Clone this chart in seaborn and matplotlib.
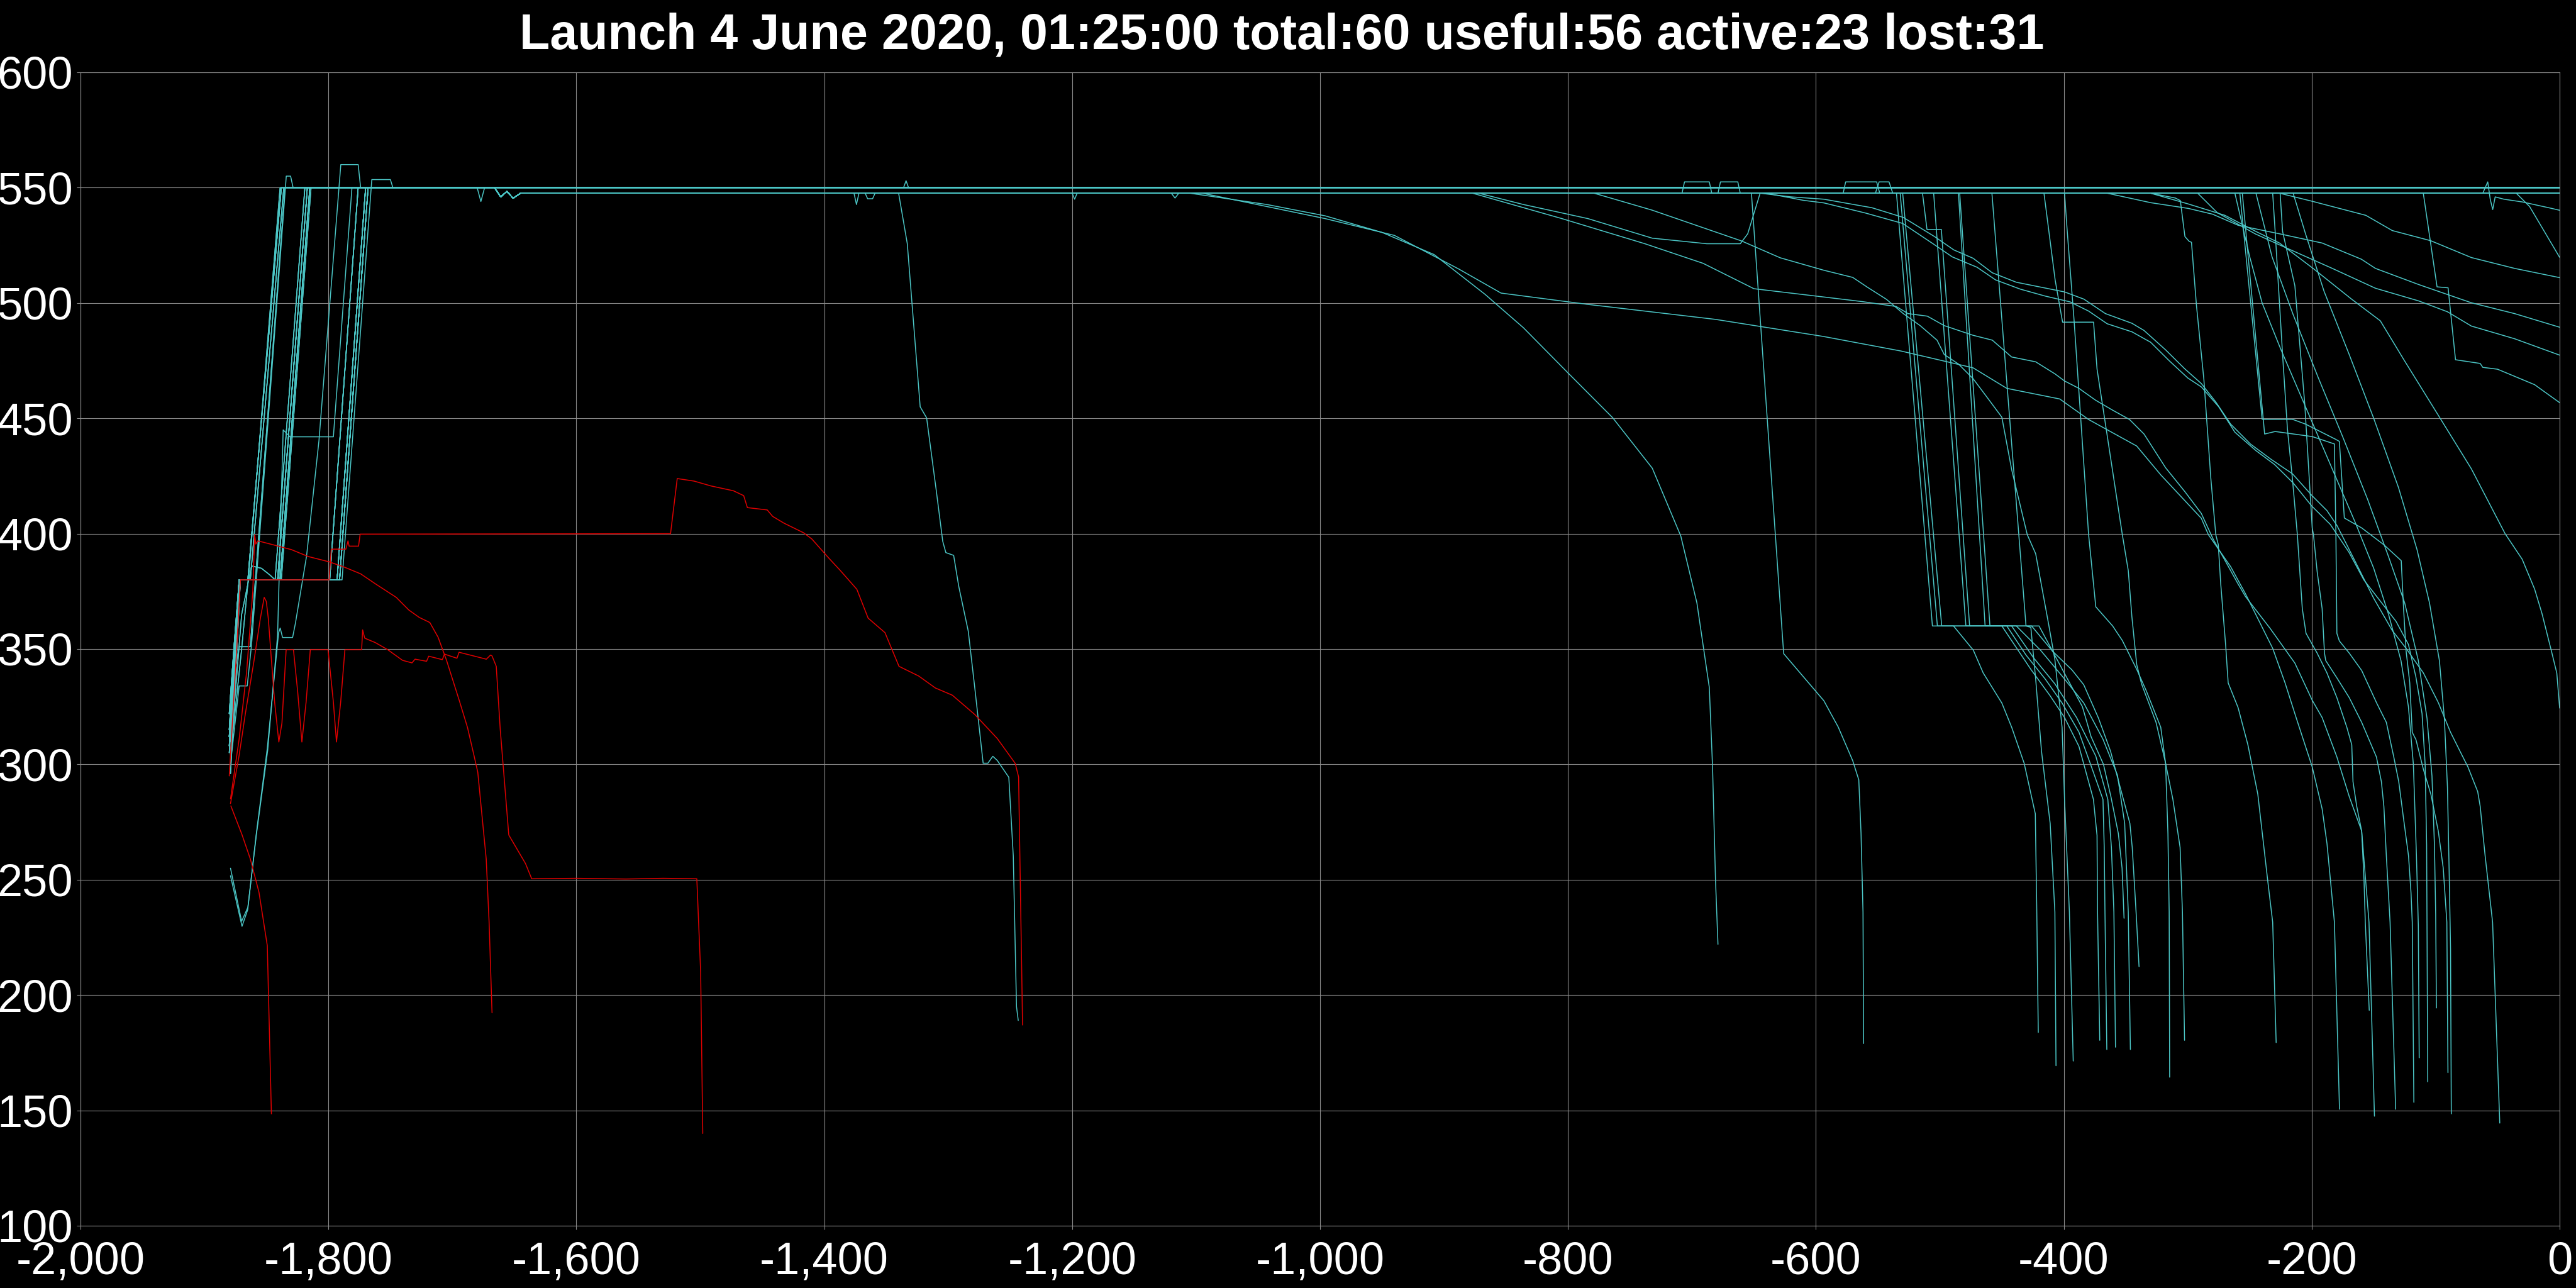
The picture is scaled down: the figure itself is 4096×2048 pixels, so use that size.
import pandas as pd
import seaborn as sns
import matplotlib.pyplot as plt
from matplotlib.ticker import FuncFormatter

TITLE = "Launch 4 June 2020, 01:25:00 total:60 useful:56 active:23 lost:31"
CYAN = '#4cc6c6'
RED = '#e00000'

# launch and orbit raising (day, km)
LAUNCH_1A = [(-1880, 322), (-1876, 352), (-1872, 380), (-1865, 380), (-1838, 550)]
LAUNCH_1B = [(-1880, 305), (-1875, 345), (-1871, 380), (-1863, 380), (-1836, 550)]
LAUNCH_1C = [(-1879, 330), (-1872, 351), (-1863, 351), (-1835, 550)]
LAUNCH_1D = [(-1879, 300), (-1872, 334), (-1865.5, 334), (-1862, 352), (-1834, 555), (-1830.5, 555), (-1828.5, 550)]
LAUNCH_1E = [(-1879, 304), (-1870, 350), (-1864, 384), (-1839, 550)]
LAUNCH_2A = [(-1880, 315), (-1876, 350), (-1872, 380), (-1841, 380), (-1817, 550)]
LAUNCH_2B = [(-1879, 310), (-1872, 380), (-1839, 380), (-1815, 550)]
LAUNCH_2C = [(-1879, 296), (-1871, 380), (-1843, 380), (-1819, 550)]
LAUNCH_2D = [(-1879, 305), (-1870, 365), (-1862, 386), (-1854, 385), (-1847, 382), (-1843, 380), (-1838, 380), (-1814, 550)]
LAUNCH_3A = [(-1880, 312), (-1872, 380), (-1791, 380), (-1768, 550)]
LAUNCH_3B = [(-1879, 318), (-1871, 380), (-1793, 380), (-1770, 550)]
LAUNCH_3C = [(-1879, 300), (-1872, 380), (-1789, 380), (-1765, 553.5), (-1750, 553.5), (-1748, 550)]
LAUNCH_3D = [(-1880, 308), (-1872, 380), (-1799, 380), (-1776, 550)]
LAUNCH_K3 = [(-1879, 251.7), (-1869.7, 229.8), (-1865.1, 237), (-1858.3, 269.4), (-1849.3, 307), (-1840.2, 357),
             (-1838.9, 359.1), (-1837, 355), (-1828.9, 355), (-1826.6, 361.2), (-1817.6, 390.4), (-1807.6, 440.5),
             (-1790, 560), (-1776, 560), (-1774, 550)]
LAUNCH_K4 = [(-1879, 255), (-1870, 232), (-1865, 238), (-1858, 270), (-1849, 306), (-1841, 356), (-1836.5, 445),
             (-1831, 442), (-1796, 442), (-1781, 550)]

SETTLE = [(-1666, 550), (-1661, 546), (-1656, 548.4), (-1651, 545.4), (-1645, 547.6)]

# operational orbit / decay paths
FLAT_550 = [(0, 550)]
FLAT_550_B = [(-1680, 550), (-1677, 544), (-1674, 550), (-1336, 550), (-1334, 553), (-1332, 550), (0, 550)]
FLAT_548 = [(0, 547.6)]
FLAT_548_D = [(-1376, 547.6), (-1374, 542.7), (-1372, 547.6), (-1367, 547.6), (-1365, 545.2), (-1361, 545.2),
              (-1359, 547.6), (-1200, 547.6), (-1198, 545), (-1196, 547.6), (-1120, 547.6), (-1117, 545.5),
              (-1114, 547.6), (0, 547.6)]
FLAT_548_B1 = [(-708, 547.6), (-706, 552.5), (-686, 552.5), (-684, 547.6), (-679, 547.6), (-677, 552.5),
               (-663, 552.5), (-661, 547.6), (0, 547.6)]
FLAT_548_B2 = [(-578, 547.6), (-576, 552.5), (-551, 552.5), (-548.5, 547.6), (0, 547.6)]
FLAT_548_B3 = [(-552, 547.6), (-549, 552.5), (-541, 552.5), (-538, 547.6), (0, 547.6)]

TAIL_S1 = [(-1340, 547.6), (-1333, 525.7), (-1322.6, 455), (-1317.4, 450.2), (-1309.6, 418.6), (-1304.4, 396.7),
           (-1301.9, 391.8), (-1295.6, 390.6), (-1291.5, 377.2), (-1283.8, 357.7), (-1278.6, 333.4),
           (-1271.8, 300.5), (-1268, 300.5), (-1264, 303.5), (-1260.4, 301.7), (-1251.1, 294.4),
           (-1247.5, 260.3), (-1244.9, 195), (-1243.5, 189)]
TAIL_S2 = [(-1105, 547.6), (-1043, 542.7), (-996, 537.8), (-950, 530.6), (-908, 521), (-867, 503.8),
           (-836, 489.3), (-800, 469.7), (-764, 450.3), (-732, 428.4), (-709, 399), (-696, 370), (-686, 333.4),
           (-683.4, 299.3), (-681, 250), (-679, 222)]
TAIL_S3 = [(-1095, 547.6), (-996, 536.6), (-940, 529.3), (-888, 514.7), (-854, 504.3), (-784, 499.4),
           (-681, 492.9), (-594, 485.5), (-531.5, 479.2), (-473.2, 471.9), (-446, 463), (-403.3, 458.4),
           (-380, 449.5), (-341.2, 438), (-321.8, 425.5), (-289.1, 406.7), (-283.4, 399.6), (-265.4, 385.7),
           (-253.4, 373.9), (-231.5, 350.3), (-221.5, 335.3), (-212.6, 320.3), (-199.6, 298.9), (-191.6, 280.7),
           (-187.7, 265.7), (-181.7, 231.6), (-177.6, 150.5)]
TAIL_L2 = [(-877, 547.6), (-805, 536.6), (-738, 525.7), (-691, 517.2), (-650, 506.2), (-593.6, 502.6),
           (-562.5, 500.6), (-535.3, 498.5), (-525.6, 495.4), (-510.1, 494.3), (-496.5, 490.2), (-473.2, 486),
           (-457.7, 483.9), (-442.1, 476.6), (-422.7, 474.5), (-407.2, 469.3), (-399.4, 466.2), (-387.8, 463),
           (-374.2, 457.8), (-360.8, 453.6), (-347, 449.5), (-335.3, 443.2), (-317.9, 428.6), (-302.3, 418.2),
           (-289.1, 408.8), (-279.4, 397.5), (-259.4, 378.2), (-253.5, 372.8), (-233.5, 358.9), (-213.6, 343.9),
           (-199.6, 327.8), (-191.6, 320.3), (-179.7, 303.2), (-169.7, 286), (-159.7, 271.1), (-153.8, 231.6),
           (-149.4, 147.5)]
TAIL_C8 = [(-779, 547.6), (-732.4, 540.3), (-660, 526.9), (-628.8, 519.6), (-593.6, 514.2), (-570.3, 511.1),
           (-558.6, 506.9), (-543.1, 501.6), (-529.5, 495.4), (-515.9, 490.2), (-502.3, 483.9), (-496.5, 477.7),
           (-484.9, 473.5), (-473.2, 467.2), (-461.6, 458.9), (-450, 450.5), (-442, 427.6), (-429.5, 399.6),
           (-422.7, 391.3), (-412, 360), (-407.2, 345.4), (-401.4, 316.1), (-399.4, 284.8), (-395.5, 236),
           (-392.4, 171.4)]
TAIL_P1 = [(-652, 547.6), (-626, 348), (-593.6, 327.6), (-582, 316.2), (-570.3, 301.6), (-565.4, 293.3),
           (-563.6, 270.3), (-562, 236), (-561.5, 179)]
TAIL_V1 = [(-872, 547.6), (-836, 542.7), (-784, 536.6), (-732, 528.1), (-688, 525.7), (-661, 525.7), (-655, 530),
           (-645, 547.6), (-620, 546), (-593.6, 545), (-554.8, 541.3), (-529.5, 537.1), (-504.3, 528.8),
           (-488.7, 523), (-473.2, 519.4), (-457.7, 513.1), (-438.3, 509), (-418.8, 506.9), (-399.4, 504.8),
           (-383.9, 501.7), (-366.4, 495.4), (-345, 491.2), (-335.3, 488.1), (-317.9, 479.7), (-302.3, 471.4),
           (-289.1, 465.1), (-277.4, 457.1), (-265.4, 447.5), (-249.5, 438.9), (-233.5, 432.5), (-215.6, 426),
           (-199.6, 416.4), (-187.7, 410), (-179.7, 403.6), (-171.7, 395.2), (-150, 372), (-135, 358),
           (-123.9, 350.3), (-109.9, 339.6), (-97.9, 326.8), (-88, 313.9), (-80, 305.3), (-74, 298.9),
           (-66.1, 288.2), (-64.1, 281.8), (-60.1, 260.3), (-54.1, 231.6), (-48.3, 144.5)]
TAIL_V2 = [(-640, 547.6), (-610, 544.5), (-593.6, 543.4), (-560, 539), (-530, 534.5), (-505, 525.5), (-490, 520),
           (-470, 515.5), (-455, 510), (-435, 506), (-415, 503), (-395, 500.5), (-380, 496.5), (-365, 491),
           (-345, 487.5), (-330, 483), (-315, 475), (-300, 467.5), (-289, 463.6), (-275, 455), (-262, 444),
           (-245, 436), (-230, 430), (-215, 422), (-200, 412), (-185, 404), (-170, 392), (-158, 380), (-145, 371),
           (-132, 362), (-122, 352), (-116, 338), (-111, 322), (-108.5, 300), (-107.3, 265), (-106.4, 162.4)]
TAIL_T1 = [(-330, 547.6), (-310, 545.5), (-306, 544.4), (-302.3, 528.8), (-299, 526.8), (-297, 526.3),
           (-293, 499), (-287, 466.8), (-281.4, 424), (-277.4, 399.6), (-275.4, 395.3), (-273.4, 378.2),
           (-269.4, 351.4), (-267.4, 335.3), (-259.4, 324.6), (-251.5, 308.5), (-243.5, 287.1), (-235.5, 249.6),
           (-231.5, 231.6), (-228.7, 179.4)]
TAIL_U1 = [(-258, 547.6), (-240, 449.6), (-215.6, 449.6), (-205, 447.5), (-181, 441), (-177.7, 440),
           (-173.7, 406.8), (-159.7, 402.5), (-141.8, 395.2), (-127.8, 388.3), (-125.9, 367.5), (-123.9, 349.3),
           (-120.9, 335.3), (-118.9, 313.9), (-115.9, 310.7), (-109.9, 297.8), (-103.9, 287.1), (-97.9, 271.1),
           (-93.9, 255), (-91, 231.6), (-90.1, 166.4)]
TAIL_U2 = [(-256, 547.6), (-238, 443.2), (-229.5, 444.3), (-199.6, 442.1), (-181.7, 438.9), (-180.5, 400),
           (-179.7, 356.8), (-177.7, 353.5), (-169.7, 348.2), (-159.7, 340.7), (-147.8, 326.8), (-139.8, 318.2),
           (-133.8, 303.2), (-129.8, 292.5), (-125.9, 276.4), (-121.9, 260.3), (-119.9, 244.3), (-118.9, 231.6),
           (-117.6, 153.5)]
TAIL_U3 = [(-231.5, 547.6), (-229.5, 531), (-223.5, 477.5), (-219.6, 445.4), (-215.6, 424), (-211.6, 399.6),
           (-209.6, 383.5), (-207.6, 367.5), (-204.6, 356.8), (-195.6, 348.2), (-187.7, 339.6), (-179.7, 328.9),
           (-171.7, 316.1), (-167.7, 308.5), (-166.7, 292.5), (-163.7, 281.8), (-159.7, 271.1), (-157.8, 249.6),
           (-156.8, 231.6), (-153.6, 193.4)]
TAIL_U4 = [(-225.5, 547.6), (-223.5, 531), (-213.6, 507.5), (-205.6, 456.1), (-199.6, 402.5), (-198.6, 399.6),
           (-195.6, 383.5), (-191.6, 367.5), (-189.7, 348.2), (-188.7, 345), (-179.7, 337.5), (-169.7, 328.9),
           (-159.7, 318.2), (-147.8, 303.2), (-143.8, 292.5), (-141.8, 281.8), (-139.8, 260.3), (-136.8, 231.6),
           (-132.3, 150.5)]
TAIL_U5 = [(-262, 547.6), (-250, 520), (-240, 500), (-225, 480), (-205, 455), (-185, 430), (-165, 405),
           (-150, 385), (-138, 365), (-128, 345), (-122, 325), (-118, 300), (-115.5, 260), (-114, 230),
           (-113.3, 172.8)]
TAIL_U6 = [(-245, 547.6), (-232, 520), (-215, 495), (-195, 468), (-175, 442), (-155, 415), (-138, 390),
           (-125, 370), (-114, 345), (-107, 320), (-103, 295), (-101, 265), (-100, 235), (-99.4, 194.4)]
TAIL_U7 = [(-215, 547.6), (-205, 530), (-190, 505), (-170, 478), (-150, 450), (-130, 420), (-115, 393),
           (-105, 370), (-97, 345), (-93, 320), (-90.5, 290), (-89, 250), (-88, 220), (-87.4, 148.5)]
TAIL_E1 = [(-62, 547.6), (-58, 552.5), (-56, 545), (-54, 540.5), (-52, 546), (-45, 545), (-30, 543.8),
           (-8, 541.2), (0, 540.2)]
TAIL_E2 = [(-35, 547.6), (-24.2, 541.8), (0, 519.8)]
TAIL_EA = [(-226, 547.6), (-198.9, 544), (-156.3, 538), (-135, 531.4), (-104, 527), (-71.2, 519.7),
           (-36.3, 515), (0, 511)]
TAIL_E3 = [(-365, 547.6), (-330, 543.5), (-299.5, 541), (-280, 538.5), (-259.4, 533.7), (-226, 530),
           (-191.6, 526), (-160, 519), (-148.6, 515), (-113.7, 508), (-71.2, 500.1), (-36.3, 495.4), (0, 489.5)]
TAIL_E4 = [(-292, 547.6), (-276.3, 539.2), (-245.3, 529.9), (-226, 525.2), (-183.4, 515), (-148.6, 506.4),
           (-113.7, 500.9), (-90.5, 496.2), (-71.2, 490), (-36.3, 484.5), (0, 477.4)]
TAIL_E6 = [(-110, 547.6), (-98.9, 507), (-90, 506.6), (-84, 475.4), (-64.1, 473.8), (-62, 472.1),
           (-50.1, 471.3), (-20.2, 464.6), (0, 456.8)]
TAIL_E7 = [(-330, 547.6), (-300, 543), (-270, 538), (-245, 531), (-226, 526), (-198.9, 515), (-167.9, 501.7),
           (-144.7, 492.3), (-125.3, 475.1), (-98.2, 451.6), (-71.2, 428.1), (-44, 400), (-30.2, 388.9),
           (-20.2, 376), (-14.2, 365.3), (-6.2, 348.2), (-2.3, 339.6), (0, 324.4)]
TAIL_C1 = [(-535, 547.6), (-506, 360), (-489, 360), (-473, 349.5), (-465, 339.6), (-450, 326.6), (-442, 316),
           (-432, 300.5), (-423, 278.6), (-421.8, 236), (-420.6, 183.8)]
TAIL_C2 = [(-505, 547.6), (-479, 360), (-450, 360), (-438.3, 350.6), (-426.6, 341.2), (-411, 329.7),
           (-399.4, 320.3), (-387.8, 307.8), (-376.1, 284.8), (-373.2, 269.2), (-372.8, 236), (-371, 180.4)]
TAIL_C3 = [(-530, 547.6), (-498.5, 360), (-446, 360), (-430.5, 347.4), (-415, 337), (-401.4, 326.6),
           (-387.8, 314), (-378, 299.4), (-368.4, 284.8), (-367.4, 264), (-366.8, 236), (-365.3, 176.4)]
TAIL_C4 = [(-532, 547.6), (-502, 360), (-442.1, 360), (-424.7, 346.4), (-407.2, 334.9), (-389.7, 320.3),
           (-374.2, 303.6), (-364.5, 284.8), (-361.6, 264), (-359.6, 236), (-358.3, 177.4)]
TAIL_C5 = [(-485, 547.6), (-463.5, 360), (-438.3, 360), (-418.8, 349.5), (-399.4, 337), (-383.9, 326.6),
           (-368.4, 310.9), (-356.7, 295.3), (-350.9, 274.4), (-348, 236), (-346.3, 176.4)]
TAIL_C6 = [(-484, 547.6), (-459.6, 360), (-426, 360), (-409, 349), (-393.5, 341), (-383.9, 334.5), (-372, 320),
           (-362.3, 305.7), (-354.5, 290), (-346.7, 274.4), (-344.8, 264), (-341.7, 236), (-339.3, 212.3)]
TAIL_C7 = [(-514, 547.6), (-510.4, 531.9), (-498.8, 531.9), (-476, 360), (-420, 360), (-410, 350), (-395, 335),
           (-385, 325), (-378, 312), (-368, 300), (-362, 286), (-356, 270), (-353, 255), (-351.4, 233.3)]
TAIL_C9 = [(-458, 547.6), (-430.5, 360), (-426.6, 359.4), (-422.7, 337), (-418, 305.7), (-411, 274.4),
           (-407.2, 236), (-406.3, 169.4)]
TAIL_Q1 = [(-416, 547.6), (-407, 510), (-401, 491.7), (-376, 491.7), (-373.2, 471.4), (-352.8, 399.6),
           (-348, 384), (-345.1, 364.1), (-341.2, 343.3), (-337.3, 334.9), (-325.6, 318.2), (-317.9, 300.5),
           (-312, 284.8), (-306.2, 264), (-304.3, 236), (-302.6, 180.4)]
TAIL_Q2 = [(-399.4, 547.6), (-397.5, 533), (-391.7, 492.3), (-380, 399.6), (-374.2, 368.3), (-360.6, 360),
           (-352.8, 353.7), (-341.2, 341.2), (-333.4, 331.8), (-321.8, 316.1), (-317.9, 300.5), (-316, 270),
           (-315, 236), (-314.6, 164.4)]

# failed satellites
RED_A = [(-1879, 285), (-1872, 311), (-1866, 340), (-1861, 375), (-1859.5, 399.6), (-1858.6, 395.5),
         (-1856.9, 396.9), (-1846.8, 395.5), (-1829.9, 393.1), (-1816.3, 390.1), (-1799.4, 387.8),
         (-1787.6, 385.6), (-1774, 382.6), (-1762.2, 378.3), (-1745.3, 372.4), (-1735.1, 366.9),
         (-1726.7, 363.7), (-1718.2, 361.5), (-1711.5, 355.1), (-1704.7, 345.1), (-1694.5, 327.8),
         (-1687.8, 316), (-1682.7, 304.2), (-1679.5, 296.6), (-1672.7, 259), (-1670.4, 232), (-1668, 192.3)]
RED_B = [(-1879, 283), (-1872, 304), (-1867, 322), (-1860, 345), (-1855, 363), (-1851.8, 372.4),
         (-1850.1, 370.6), (-1848.5, 363.3), (-1843.4, 327), (-1840, 309.7), (-1837.5, 317.9), (-1834.1, 349.7),
         (-1828.2, 349.7), (-1824.8, 331.5), (-1821.4, 309.7), (-1818, 327), (-1814.6, 349.7), (-1800.3, 349.7),
         (-1796, 327), (-1793.5, 309.7), (-1790.1, 327), (-1786.7, 349.7), (-1773.2, 349.7), (-1772.4, 358.3),
         (-1770.7, 354.7), (-1762.2, 352.8), (-1752.1, 349.7), (-1740.2, 345.1), (-1732.6, 344),
         (-1730.1, 345.6), (-1720.8, 344.7), (-1719.1, 346.9), (-1708.1, 345.4), (-1706.4, 347.8),
         (-1696.3, 346), (-1694.6, 348.6), (-1672.6, 345.6), (-1669.2, 347.4), (-1668, 347), (-1664.6, 342.5),
         (-1661.4, 315.3), (-1654.5, 269.4), (-1641, 257), (-1636, 250.4), (-1600, 250.6), (-1560, 250.3),
         (-1530, 250.6), (-1502.8, 250.4), (-1499.7, 210), (-1498, 140)]
RED_C = [(-1880, 295), (-1874, 350), (-1871, 380), (-1799.4, 380), (-1797.7, 393.3), (-1785.9, 393.3),
         (-1784.2, 396.9), (-1783.3, 394.6), (-1775.7, 394.6), (-1774.4, 399.8), (-1524, 400), (-1518.6, 423.9),
         (-1505, 422.8), (-1491.4, 420.7), (-1473.3, 418.6), (-1465, 416.5), (-1462, 411.3), (-1446, 410.3),
         (-1441.6, 407.5), (-1432.6, 404.6), (-1416.7, 400.4), (-1410, 397.7), (-1396.3, 389.4),
         (-1387.3, 384.2), (-1373.7, 375.9), (-1364.6, 363.4), (-1351, 357.1), (-1339.7, 342.5),
         (-1323.8, 338.3), (-1310.3, 333.1), (-1296.7, 330), (-1278.5, 321.6), (-1260.4, 311.2),
         (-1245.9, 300.4), (-1243.2, 294.5), (-1240, 187)]
RED_D = [(-1878.7, 282), (-1869.7, 269.5), (-1863, 259), (-1856, 244.5), (-1849.3, 221.4), (-1846, 148.5)]

LAUNCHES = {'1A': LAUNCH_1A, '1B': LAUNCH_1B, '1C': LAUNCH_1C, '1D': LAUNCH_1D, '1E': LAUNCH_1E,
            '2A': LAUNCH_2A, '2B': LAUNCH_2B, '2C': LAUNCH_2C, '2D': LAUNCH_2D,
            '3A': LAUNCH_3A, '3B': LAUNCH_3B, '3C': LAUNCH_3C, '3D': LAUNCH_3D,
            'K3': LAUNCH_K3, 'K4': LAUNCH_K4}
TAILS = {'f550': FLAT_550, 'f550b': FLAT_550_B, 'f548': FLAT_548, 'f548d': FLAT_548_D,
         'f548b1': FLAT_548_B1, 'f548b2': FLAT_548_B2, 'f548b3': FLAT_548_B3,
         'S1': TAIL_S1, 'S2': TAIL_S2, 'S3': TAIL_S3, 'L2': TAIL_L2, 'C8': TAIL_C8, 'P1': TAIL_P1,
         'V1': TAIL_V1, 'V2': TAIL_V2, 'T1': TAIL_T1, 'U1': TAIL_U1, 'U2': TAIL_U2, 'U3': TAIL_U3,
         'U4': TAIL_U4, 'U5': TAIL_U5, 'U6': TAIL_U6, 'U7': TAIL_U7, 'E1': TAIL_E1, 'E2': TAIL_E2,
         'EA': TAIL_EA, 'E3': TAIL_E3, 'E4': TAIL_E4, 'E6': TAIL_E6, 'E7': TAIL_E7,
         'C1': TAIL_C1, 'C2': TAIL_C2, 'C3': TAIL_C3, 'C4': TAIL_C4, 'C5': TAIL_C5, 'C6': TAIL_C6,
         'C7': TAIL_C7, 'C9': TAIL_C9, 'Q1': TAIL_Q1, 'Q2': TAIL_Q2}

# (launch profile, settled to 547.6?, later path)
SATS = [
    ('1A', False, 'f550'), ('3A', False, 'f550'), ('2A', False, 'f550'), ('3B', False, 'f550'),
    ('1B', False, 'f550b'), ('2B', False, 'f550'), ('3A', False, 'f550'), ('3D', False, 'f550'),
    ('1C', False, 'f550'), ('2C', False, 'f550'), ('3A', False, 'f550'), ('3B', False, 'f550'),
    ('2A', True, 'f548'), ('1A', True, 'f548'), ('3D', True, 'f548d'), ('2B', True, 'f548'),
    ('K3', True, 'f548b1'), ('3A', True, 'f548'), ('2D', True, 'f548b2'), ('1E', True, 'f548'),
    ('3B', True, 'f548b3'), ('2A', True, 'f548'), ('3C', True, 'f548'),
    ('1D', True, 'S1'), ('3A', True, 'S2'), ('2B', True, 'S3'), ('3D', True, 'L2'), ('1A', True, 'C8'),
    ('3B', True, 'P1'), ('2C', True, 'V1'), ('K4', True, 'V2'), ('3A', True, 'T1'),
    ('2A', True, 'U1'), ('1B', True, 'U2'), ('3B', True, 'U3'), ('2B', True, 'U4'), ('3D', True, 'U5'),
    ('3A', True, 'U6'), ('1C', True, 'U7'),
    ('2D', True, 'E1'), ('3B', True, 'E2'), ('2A', True, 'EA'), ('1E', True, 'E3'), ('3A', True, 'E4'),
    ('2B', True, 'E6'), ('3D', True, 'E7'),
    ('1A', True, 'C1'), ('3B', True, 'C2'), ('2C', True, 'C3'), ('1B', True, 'C4'), ('3A', True, 'C5'),
    ('2A', True, 'C6'), ('3B', True, 'C7'), ('1A', True, 'C9'), ('2B', True, 'Q1'), ('3A', True, 'Q2'),
]
FAILED = [RED_A, RED_B, RED_C, RED_D]

rows = []
for i, (launch, settle, tail) in enumerate(SATS):
    pts = LAUNCHES[launch] + (SETTLE if settle else []) + TAILS[tail]
    rows += [('s%02d' % i, x, y, 'ok') for x, y in pts]
for j, pts in enumerate(FAILED):
    rows += [('f%02d' % j, x, y, 'failed') for x, y in pts]
df = pd.DataFrame(rows, columns=['sat', 't', 'alt', 'status'])

sns.set_theme(style='whitegrid', rc={'axes.facecolor': 'black', 'figure.facecolor': 'black',
                                     'grid.color': '#8c8c8c', 'grid.linewidth': 0.8,
                                     'axes.edgecolor': '#8c8c8c', 'axes.linewidth': 0.8})
plt.rcParams['font.family'] = ['Liberation Sans', 'DejaVu Sans']

fig = plt.figure(figsize=(40.96, 20.48), dpi=100)
ax = fig.add_axes([0.03125, 0.04834, 0.96240, 0.89551])

sns.lineplot(data=df, x='t', y='alt', units='sat', estimator=None, hue='status',
             hue_order=['ok', 'failed'], palette={'ok': CYAN, 'failed': RED},
             sort=False, legend=False, linewidth=1.1, ax=ax)

ax.set_xlim(-2000, 0)
ax.set_ylim(100, 600)
ax.set_xticks(range(-2000, 1, 200))
ax.set_yticks(range(100, 601, 50))
ax.xaxis.set_major_formatter(FuncFormatter(lambda v, p: f'{v:,.0f}'))
ax.set_xlabel('')
ax.set_ylabel('')
ax.tick_params(bottom=True, left=True, colors='#8c8c8c', labelcolor='white', labelsize=52,
               length=4.5, width=0.8)
ax.tick_params(axis='x', pad=13)
ax.tick_params(axis='y', pad=4)

fig.text(0.4975, 0.9624, TITLE, ha='center', va='baseline', color='white',
         fontsize=57, fontweight='bold')

fig.savefig('out.png', dpi=100, facecolor='black')
